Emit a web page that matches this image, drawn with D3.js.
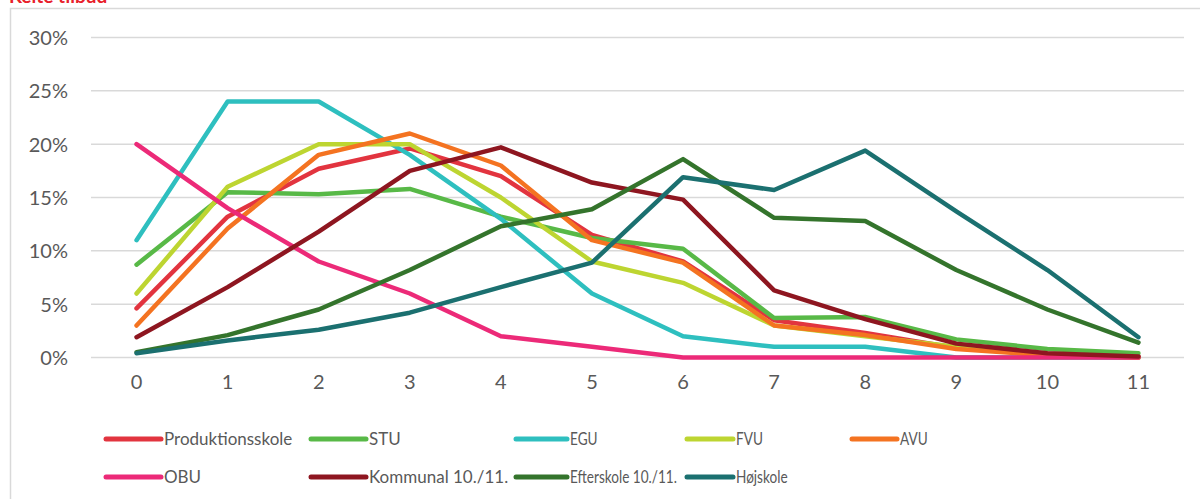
<!DOCTYPE html>
<html><head><meta charset="utf-8">
<script src="https://cdn.jsdelivr.net/npm/d3@7"></script>
<style>body{margin:0;background:#fff}svg{display:block}</style>
</head><body>
<svg id="c" width="1200" height="499"></svg>
<script>
const categories = [0,1,2,3,4,5,6,7,8,9,10,11];
const yTicks = [0,5,10,15,20,25,30];
const seriesNames = ["Produktionsskole","STU","EGU","FVU","AVU","OBU","Kommunal 10./11.","Efterskole 10./11.","Højskole"];
const produktionsskole = [4.6,13.2,17.7,19.6,17.0,11.5,9.0,3.5,2.3,0.9,0.3,0.1];
const stu             = [8.7,15.5,15.3,15.8,13.2,11.2,10.2,3.7,3.8,1.7,0.8,0.4];
const egu             = [11.0,24.0,24.0,19.0,13.0,6.0,2.0,1.0,1.0,0,0,0];
const fvu             = [6.0,16.0,20.0,20.0,15.0,9.0,7.0,3.0,2.0,1.0,0.3,0];
const avu             = [3.0,12.1,19.0,21.0,18.0,11.0,8.9,3.0,2.1,0.8,0.2,0];
const obu             = [20.0,14.0,9.0,6.0,2.0,1.0,0,0,0,0,0,0];
const kommunal        = [1.9,6.6,11.8,17.5,19.7,16.4,14.8,6.3,3.6,1.3,0.4,0.1];
const efterskole      = [0.5,2.1,4.5,8.2,12.3,13.9,18.6,13.1,12.8,8.2,4.5,1.4];
const hojskole        = [0.4,1.6,2.6,4.2,6.6,8.9,16.9,15.7,19.4,13.7,8.2,1.9];

const seriesValues = [produktionsskole,stu,egu,fvu,avu,obu,kommunal,efterskole,hojskole];
const colors = ["#e2343f","#58b947","#2ebfbf","#bdd531","#f47321","#ec2a78","#8e1620","#34742c","#1b7070"];

const svg = d3.select("#c");
const font = "Lato, 'Open Sans', sans-serif";

// chart frame
svg.append("rect").attr("x",10.5).attr("y",8.5).attr("width",1250).attr("height",600)
  .attr("fill","none").attr("stroke","#d9d9d9").attr("stroke-width",1.5);

// cut-off title
svg.append("text").attr("x",9).attr("y",3).text("Kelte tilbud")
  .attr("font-family",font).attr("font-weight","bold").attr("font-size",19).attr("fill","#e8202a");

const x = d3.scaleBand().domain(categories).range([91,1184]);
const y = d3.scaleLinear().domain([0,30]).range([357.5,37.5]);

// gridlines
svg.append("g").selectAll("line").data(yTicks).join("line")
  .attr("x1",91).attr("x2",1184).attr("y1",d=>y(d)).attr("y2",d=>y(d))
  .attr("stroke","#d9d9d9").attr("stroke-width",1.5);

// y axis
const yAxis = svg.append("g").attr("transform","translate(68,0)")
  .call(d3.axisLeft(y).tickValues(yTicks).tickSize(0).tickPadding(0).tickFormat(d=>d+"%"));
yAxis.select(".domain").remove();
yAxis.selectAll("text").attr("font-family",font).attr("font-size",20).attr("fill","#595959").attr("dy","0.35em");

// x axis
const xAxis = svg.append("g").attr("transform","translate(0,375)")
  .call(d3.axisBottom(x).tickSize(0).tickPadding(0));
xAxis.select(".domain").remove();
xAxis.selectAll("text").attr("font-family",font).attr("font-size",20).attr("fill","#595959").attr("dy","0.71em");

// lines
const line = d3.line().x((d,i)=>x(categories[i])+x.bandwidth()/2).y(d=>y(d));
svg.append("g").selectAll("path").data(seriesValues).join("path")
  .attr("d",d=>line(d)).attr("fill","none").attr("stroke",(d,i)=>colors[i])
  .attr("stroke-width",4.5).attr("stroke-linejoin","round").attr("stroke-linecap","round");

// legend (right-hand columns are horizontally condensed in the reference)
const legCols = [{lx:106,len:55,sx:1},{lx:311,len:55,sx:1},{lx:516,len:51,sx:0.8},{lx:687,len:46,sx:0.8},{lx:852,len:45,sx:0.8}];
const legRows = [439,477];
const leg = svg.append("g").selectAll("g").data(seriesNames).join("g")
  .attr("transform",(d,i)=>{const c=legCols[i%5]; return `translate(${c.lx},${legRows[Math.floor(i/5)]})`;});
leg.append("line").attr("x1",0).attr("x2",(d,i)=>legCols[i%5].len).attr("y1",0).attr("y2",0)
  .attr("stroke",(d,i)=>colors[i]).attr("stroke-width",5).attr("stroke-linecap","round");
leg.append("text")
  .attr("transform",(d,i)=>`translate(${legCols[i%5].len+3},0) scale(${legCols[i%5].sx},1)`)
  .attr("dy","0.35em").text(d=>d)
  .attr("font-family",font).attr("font-size",17).attr("fill","#595959");
</script>
</body></html>
